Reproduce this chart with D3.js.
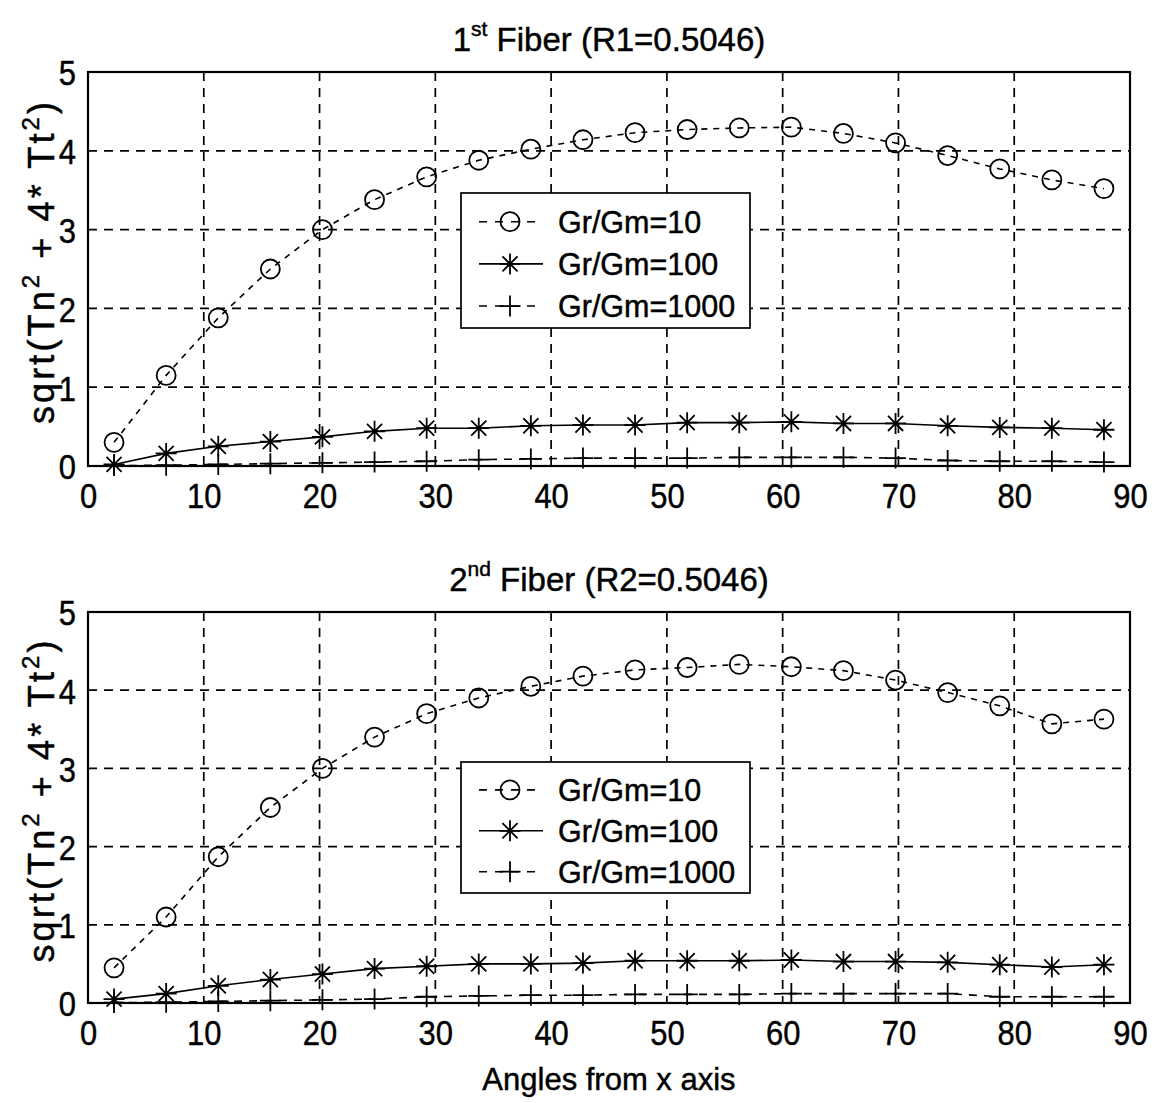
<!DOCTYPE html>
<html>
<head>
<meta charset="utf-8">
<script src="https://cdn.jsdelivr.net/npm/d3@7/dist/d3.min.js"></script>
<style>
  body { margin: 0; background: #fff; }
  svg { display: block; font-family: "Liberation Sans", Arial, sans-serif; }
  text { fill: #000; stroke: #000; stroke-width: 0.45px; }
</style>
</head>
<body>
<svg id="chart" width="1154" height="1103"></svg>
<script>
// Bin-centre angles (degrees from x axis)
const angles = [2.25, 6.75, 11.25, 15.75, 20.25, 24.75, 29.25, 33.75, 38.25, 42.75,
                47.25, 51.75, 56.25, 60.75, 65.25, 69.75, 74.25, 78.75, 83.25, 87.75];

// 1st fiber
const fiber1_g10   = [0.30, 1.15, 1.88, 2.50, 3.00, 3.38, 3.67, 3.88, 4.02, 4.14,
                      4.23, 4.27, 4.29, 4.30, 4.22, 4.10, 3.94, 3.77, 3.63, 3.52];
const fiber1_g100  = [0.02, 0.16, 0.25, 0.31, 0.37, 0.44, 0.48, 0.48, 0.51, 0.52,
                      0.52, 0.55, 0.55, 0.56, 0.54, 0.54, 0.51, 0.49, 0.48, 0.46];
const fiber1_g1000 = [0.005, 0.01, 0.02, 0.03, 0.04, 0.05, 0.06, 0.08, 0.09, 0.10,
                      0.10, 0.10, 0.11, 0.11, 0.11, 0.10, 0.07, 0.06, 0.06, 0.05];

// 2nd fiber
const fiber2_g10   = [0.45, 1.10, 1.87, 2.50, 3.00, 3.40, 3.70, 3.90, 4.05, 4.18,
                      4.26, 4.29, 4.33, 4.30, 4.25, 4.13, 3.97, 3.80, 3.57, 3.63];
const fiber2_g100  = [0.05, 0.12, 0.22, 0.30, 0.37, 0.44, 0.47, 0.50, 0.50, 0.51,
                      0.54, 0.54, 0.54, 0.55, 0.53, 0.53, 0.52, 0.49, 0.46, 0.49];
const fiber2_g1000 = [0.005, 0.01, 0.02, 0.03, 0.04, 0.05, 0.08, 0.09, 0.10, 0.10,
                      0.11, 0.11, 0.11, 0.12, 0.12, 0.12, 0.12, 0.08, 0.08, 0.08];

const seriesNames = ["Gr/Gm=10", "Gr/Gm=100", "Gr/Gm=1000"];
const xTicks = [0, 10, 20, 30, 40, 50, 60, 70, 80, 90];
const yTicks = [0, 1, 2, 3, 4, 5];

const svg = d3.select("#chart");

const panels = [
  { ord: "1", sup: "st", rest: " Fiber (R1=0.5046)", top: 72, bottom: 466,
    data: [fiber1_g10, fiber1_g100, fiber1_g1000], legend: { x: 461, y: 193, w: 289, h: 135 } },
  { ord: "2", sup: "nd", rest: " Fiber (R2=0.5046)", top: 612, bottom: 1003,
    data: [fiber2_g10, fiber2_g100, fiber2_g1000], legend: { x: 461, y: 762, w: 289, h: 131 } }
];

const left = 88, right = 1130;
const tickFs = 36, tickSx = 0.86;

// marker drawers
function drawCircle(g, x, y) {
  g.append("circle").attr("cx", x).attr("cy", y).attr("r", 9.5)
    .attr("fill", "none").attr("stroke", "#000").attr("stroke-width", 1.8);
}
function drawStar(g, x, y) {
  const r = 10.5, d = r * 0.72;
  const p = `M${x - r},${y}L${x + r},${y}M${x},${y - r}L${x},${y + r}` +
            `M${x - d},${y - d}L${x + d},${y + d}M${x - d},${y + d}L${x + d},${y - d}`;
  g.append("path").attr("d", p).attr("stroke", "#000").attr("stroke-width", 1.8).attr("fill", "none");
}
function drawPlus(g, x, y) {
  const r = 10.5;
  const p = `M${x - r},${y}L${x + r},${y}M${x},${y - r}L${x},${y + r}`;
  g.append("path").attr("d", p).attr("stroke", "#000").attr("stroke-width", 1.8).attr("fill", "none");
}
const markers = [drawCircle, drawStar, drawPlus];
const dashes = ["6,6", null, "8,7"];

panels.forEach(pn => {
  const x = d3.scaleLinear().domain([0, 90]).range([left, right]);
  const y = d3.scaleLinear().domain([0, 5]).range([pn.bottom, pn.top]);
  const g = svg.append("g");

  // grid
  g.append("g").selectAll("line").data(xTicks.slice(1, -1)).join("line")
    .attr("x1", d => x(d)).attr("x2", d => x(d))
    .attr("y1", pn.top).attr("y2", pn.bottom)
    .attr("stroke", "#000").attr("stroke-width", 1.7).attr("stroke-dasharray", "9,7");
  g.append("g").selectAll("line").data(yTicks.slice(1, -1)).join("line")
    .attr("x1", left).attr("x2", right)
    .attr("y1", d => y(d)).attr("y2", d => y(d))
    .attr("stroke", "#000").attr("stroke-width", 1.7).attr("stroke-dasharray", "9,7");

  // axes
  const xAxis = d3.axisBottom(x).tickValues(xTicks).tickSize(0).tickPadding(16).tickFormat(d3.format("d"));
  const gx = g.append("g").attr("transform", `translate(0,${pn.bottom})`).call(xAxis);
  gx.select(".domain").remove();
  gx.selectAll("text").attr("font-size", tickFs).attr("font-family", "Liberation Sans, Arial, sans-serif")
    .attr("fill", "#000").attr("dy", "0.71em").attr("transform", `scale(${tickSx},1)`);

  const yAxis = d3.axisLeft(y).tickValues(yTicks).tickSize(0).tickPadding(14).tickFormat(d3.format("d"));
  const gy = g.append("g").attr("transform", `translate(${left},0)`).call(yAxis);
  gy.select(".domain").remove();
  gy.selectAll("text").attr("font-size", tickFs).attr("font-family", "Liberation Sans, Arial, sans-serif")
    .attr("fill", "#000").attr("dy", "0.36em").attr("transform", `scale(${tickSx},1)`);

  // series
  pn.data.forEach((vals, si) => {
    const pts = angles.map((a, i) => [x(a), y(vals[i])]);
    g.append("path").attr("d", d3.line()(pts)).attr("fill", "none")
      .attr("stroke", "#000").attr("stroke-width", 1.6)
      .attr("stroke-dasharray", dashes[si]);
    const mg = g.append("g");
    pts.forEach(p => markers[si](mg, p[0], p[1]));
  });

  // frame
  g.append("rect").attr("x", left).attr("y", pn.top).attr("width", right - left).attr("height", pn.bottom - pn.top)
    .attr("fill", "none").attr("stroke", "#000").attr("stroke-width", 2.2);

  // title
  const t = g.append("text").attr("x", (left + right) / 2).attr("y", pn.top - 21)
    .attr("text-anchor", "middle").attr("font-size", 33);
  t.append("tspan").text(pn.ord);
  t.append("tspan").attr("font-size", 21).attr("dy", -15).text(pn.sup);
  t.append("tspan").attr("dy", 15).text(pn.rest);

  // y label
  const yl = g.append("text")
    .attr("transform", `translate(54,${(pn.top + pn.bottom) / 2 - 6}) rotate(-90)`)
    .attr("text-anchor", "middle").attr("font-size", 36)
    .attr("textLength", 322).attr("lengthAdjust", "spacing");
  yl.append("tspan").text("sqrt(Tn");
  yl.append("tspan").attr("font-size", 24).attr("dy", -15).text("2");
  yl.append("tspan").attr("dy", 15).text(" + 4* Tt");
  yl.append("tspan").attr("font-size", 24).attr("dy", -15).text("2");
  yl.append("tspan").attr("dy", 15).text(")");

  // legend
  const L = pn.legend;
  const lg = g.append("g");
  lg.append("rect").attr("x", L.x).attr("y", L.y).attr("width", L.w).attr("height", L.h)
    .attr("fill", "#fff").attr("stroke", "#000").attr("stroke-width", 1.7);
  const rowH = L.h / 3.2;
  seriesNames.forEach((name, si) => {
    const cy = L.y + rowH * 0.68 + si * rowH;
    lg.append("line").attr("x1", L.x + 18).attr("x2", L.x + 82).attr("y1", cy).attr("y2", cy)
      .attr("stroke", "#000").attr("stroke-width", 1.6).attr("stroke-dasharray", si === 1 ? null : "8,8");
    markers[si](lg, L.x + 49, cy);
    lg.append("text").attr("x", L.x + 97).attr("y", cy).attr("dy", "0.36em")
      .attr("font-size", 30.5).text(name);
  });
});

// shared x label
svg.append("text").attr("x", (left + right) / 2).attr("y", 1090)
  .attr("text-anchor", "middle").attr("font-size", 31).text("Angles from x axis");
</script>
</body>
</html>
